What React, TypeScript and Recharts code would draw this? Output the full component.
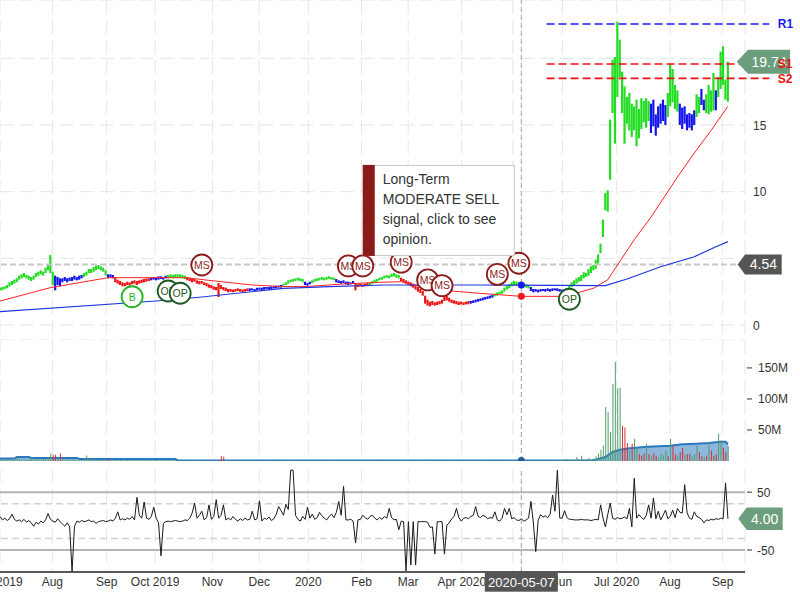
import React from 'react';
import {
  ComposedChart,
  Bar,
  Line,
  Area,
  XAxis,
  YAxis,
  CartesianGrid,
  ReferenceLine,
  ReferenceDot,
  Cell,
} from 'recharts';

const FONT = '"Liberation Sans", Arial, sans-serif';

// ---------- axis categories ----------
const monthTickIdx = [0, 21.8, 44.4, 64.6, 88.4, 107.9, 128.3, 150.5, 169.9, 192.2, 213.5, 234.1, 256.7, 278.9, 300.8];
const monthLabels = ['Jul 2019', 'Aug', 'Sep', 'Oct 2019', 'Nov', 'Dec', '2020', 'Feb', 'Mar', 'Apr 2020', 'May', 'Jun', 'Jul 2020', 'Aug', 'Sep'];
const XMAX = 310.1;

const priceTicks = [0, 5, 10, 15, 20];
const priceLabelTicks = [0, 10, 15];
const volumeTicks = [50, 100, 150];
const oscTicks = [-50, 50];

// ---------- daily price bars (low / high) ----------
const priceLow = [
  2.6, 2.6, 2.7, 2.75, 2.9, 3.0, 3.1, 3.2, 3.4, 3.5,
  3.6, 3.5, 3.4, 3.3, 3.4, 3.6, 3.7, 3.8, 3.7, 3.9,
  4.1, 3.9, 3.0, 2.6, 3.0, 2.9, 3.2, 3.3, 3.2, 3.3,
  3.3, 3.4, 3.35, 3.4, 3.5, 3.6, 3.7, 3.9, 3.9, 4.0,
  4.1, 4.2, 4.1, 4.0, 3.7, 3.5, 3.55, 3.5, 3.2, 3.1,
  3.0, 2.9, 2.9, 3.0, 2.95, 3.05, 3.1, 3.0, 3.1, 3.15,
  3.2, 3.25, 3.3, 3.35, 3.4, 3.35, 3.4, 3.45, 3.4, 3.5,
  3.5, 3.55, 3.5, 3.55, 3.6, 3.55, 3.5, 3.45, 3.35, 3.3,
  3.2, 3.25, 3.1, 3.05, 3.1, 3.0, 2.9, 2.8, 2.75, 2.65,
  2.6, 2.1, 2.7, 2.6, 2.55, 2.45, 2.5, 2.45, 2.5, 2.55,
  2.5, 2.45, 2.5, 2.55, 2.55, 2.6, 2.55, 2.6, 2.65, 2.6,
  2.65, 2.7, 2.65, 2.7, 2.75, 2.75, 2.8, 2.8, 2.9, 3.0,
  3.1, 3.2, 3.25, 3.3, 3.35, 3.3, 3.2, 3.0, 2.95, 3.05,
  3.15, 3.25, 3.3, 3.35, 3.4, 3.35, 3.4, 3.45, 3.4, 3.35,
  3.2, 3.15, 3.1, 3.15, 3.05, 3.0, 3.05, 3.1, 2.6, 2.85,
  2.9, 2.85, 2.9, 2.95, 3.0, 3.1, 3.2, 3.25, 3.35, 3.4,
  3.5, 3.55, 3.5, 3.6, 3.65, 3.55, 3.5, 3.3, 3.2, 3.1,
  3.0, 2.9, 2.8, 2.65, 2.5, 2.4, 2.2, 1.6, 1.45, 1.4,
  1.5, 1.45, 1.5, 1.55, 1.6, 1.8, 1.85, 1.75, 1.65, 1.6,
  1.55, 1.5, 1.55, 1.5, 1.55, 1.55, 1.6, 1.65, 1.7, 1.75,
  1.8, 1.85, 1.9, 1.95, 2.0, 2.05, 2.15, 2.2, 2.3, 2.35,
  2.5, 2.65, 2.75, 2.9, 3.0, 2.95, 2.9, 2.9, 2.85, 2.8,
  2.75, 2.55, 2.45, 2.5, 2.45, 2.5, 2.55, 2.5, 2.55, 2.5,
  2.55, 2.6, 2.55, 2.5, 2.45, 2.4, 2.5, 2.7, 2.85, 3.0,
  3.1, 3.25, 3.3, 3.5, 3.6, 3.7, 3.9, 4.1, 4.2, 4.6,
  5.4, 6.6, 8.6, 8.5, 10.9, 15.9, 13.6, 17.1, 18.6, 15.9,
  13.6, 15.1, 14.6, 14.1, 14.6, 13.4, 14.0, 14.7, 15.2, 14.8,
  15.3, 14.4, 14.9, 14.2, 14.8, 15.1, 15.3, 15.0, 15.6, 16.4,
  16.7, 16.2, 16.0, 15.0, 14.7, 15.1, 14.6, 14.8, 14.6, 15.0,
  15.6, 15.9, 16.5, 16.1, 15.9, 15.8, 16.0, 16.1, 16.1, 17.1,
  17.7, 18.0, 16.9, 16.75,
];

const priceHigh = [
  2.8, 2.85, 2.9, 3.0, 3.2, 3.3, 3.4, 3.5, 3.7, 3.8,
  3.9, 3.75, 3.7, 3.6, 3.7, 3.9, 4.0, 4.1, 4.0, 4.3,
  4.5, 5.25, 4.0, 3.7, 3.6, 3.5, 3.5, 3.6, 3.5, 3.55,
  3.6, 3.7, 3.6, 3.7, 3.75, 3.9, 4.0, 4.2, 4.2, 4.35,
  4.45, 4.5, 4.4, 4.3, 4.1, 3.8, 3.8, 3.75, 3.6, 3.4,
  3.3, 3.2, 3.15, 3.25, 3.2, 3.3, 3.35, 3.3, 3.35, 3.4,
  3.45, 3.5, 3.5, 3.55, 3.6, 3.55, 3.65, 3.65, 3.6, 3.7,
  3.75, 3.8, 3.75, 3.8, 3.8, 3.8, 3.75, 3.7, 3.6, 3.55,
  3.45, 3.45, 3.35, 3.3, 3.3, 3.2, 3.15, 3.05, 3.0, 2.9,
  2.85, 3.15, 3.0, 2.85, 2.8, 2.7, 2.7, 2.65, 2.7, 2.75,
  2.7, 2.65, 2.7, 2.75, 2.75, 2.75, 2.7, 2.8, 2.8, 2.8,
  2.85, 2.85, 2.85, 2.9, 2.9, 2.95, 2.95, 3.0, 3.1, 3.2,
  3.35, 3.4, 3.45, 3.5, 3.55, 3.5, 3.45, 3.25, 3.15, 3.25,
  3.35, 3.45, 3.5, 3.55, 3.6, 3.55, 3.6, 3.65, 3.6, 3.55,
  3.45, 3.35, 3.3, 3.35, 3.25, 3.25, 3.2, 3.3, 3.1, 3.05,
  3.1, 3.05, 3.1, 3.15, 3.2, 3.3, 3.4, 3.45, 3.55, 3.6,
  3.7, 3.75, 3.7, 3.85, 3.9, 3.8, 3.75, 3.55, 3.45, 3.35,
  3.25, 3.2, 3.1, 2.95, 2.85, 2.7, 2.55, 2.2, 1.9, 1.75,
  1.8, 1.7, 1.75, 1.8, 1.9, 2.15, 2.2, 2.05, 1.9, 1.85,
  1.8, 1.75, 1.75, 1.7, 1.75, 1.8, 1.8, 1.85, 1.9, 1.95,
  2.0, 2.05, 2.1, 2.15, 2.2, 2.25, 2.35, 2.45, 2.5, 2.6,
  2.8, 2.95, 3.05, 3.2, 3.3, 3.25, 3.2, 3.15, 3.1, 3.05,
  3.0, 2.85, 2.7, 2.7, 2.65, 2.7, 2.7, 2.7, 2.75, 2.7,
  2.75, 2.75, 2.75, 2.7, 2.65, 2.65, 2.7, 3.0, 3.2, 3.35,
  3.5, 3.6, 3.75, 3.95, 3.9, 4.2, 4.4, 4.5, 4.9, 5.3,
  6.1, 7.9, 9.9, 10.1, 15.4, 19.9, 20.1, 22.75, 21.4, 19.0,
  17.9, 17.1, 17.4, 16.6, 16.4, 16.9, 16.2, 17.0, 16.8, 17.0,
  16.8, 16.6, 16.9, 15.8, 16.4, 16.6, 16.9, 16.5, 17.4, 19.6,
  19.2, 18.0, 17.6, 16.6, 16.3, 16.4, 15.8, 15.9, 15.8, 16.1,
  17.3, 17.1, 17.7, 16.9, 17.3, 18.0, 17.6, 18.9, 17.6, 18.6,
  20.5, 20.9, 18.4, 19.75,
];

// trend state of each bar (start index of each run)
const trendStarts = [0, 23, 35, 45, 48, 63, 70, 78, 104, 118, 127, 130, 140, 148, 154, 167, 196, 206, 221, 237, 271, 278, 283, 290, 292, 294, 298, 299];
const trendStates = ['up', 'flat', 'up', 'flat', 'down', 'flat', 'up', 'down', 'flat', 'up', 'flat', 'up', 'flat', 'down', 'up', 'down', 'flat', 'up', 'flat', 'up', 'flat', 'up', 'flat', 'up', 'flat', 'up', 'flat', 'up'];

// moving averages read at sparse points [index, value]
const redMA: [number, number][] = [
  [0, 1.8], [21, 2.8], [45, 3.55], [60, 3.55], [77, 3.55], [92, 3.25], [105, 3.0], [118, 2.88], [129, 2.9],
  [142, 3.07], [158, 3.2], [167, 3.25], [180, 2.67], [200, 2.37], [217, 2.15], [233, 2.15], [240, 2.4],
  [247, 2.75], [253, 3.4], [257, 4.5], [264, 6.4], [271, 8.1], [282, 11.1], [289, 12.9], [296, 14.6], [303, 16.4],
];
const blueMA: [number, number][] = [
  [0, 1.0], [65, 1.8], [83, 2.08], [118, 2.75], [137, 2.88], [160, 3.0], [200, 3.0], [252, 2.95],
  [261, 3.45], [275, 4.37], [289, 5.12], [298, 5.87], [303, 6.25],
];

// ---------- volume (millions) ----------
const volumeM = [
  3, 2.5, 3.5, 2, 3, 2.5, 4, 6, 3, 2.5,
  3, 2, 3.5, 4.5, 3, 4, 3, 2.5, 3.5, 4,
  5, 12, 10, 10, 4, 12, 3, 2.5, 3, 2,
  2.5, 3, 2, 3, 2.5, 3, 9, 3, 2.5, 2,
  2, 1.5, 2, 2, 1.5, 3.8, 1.5, 1, 1.5, 1,
  1.5, 1, 1, 1.5, 1, 1, 1.5, 1, 1, 1.5,
  1, 1, 1.5, 1, 1, 1.5, 1, 1, 1, 1.5,
  1, 1, 1, 1.5, 1, 1, 0.8, 1, 0.8, 1,
  0.8, 1, 0.8, 0.8, 1, 0.8, 1, 0.8, 1, 0.8,
  1, 1.5, 7.5, 7, 1.5, 1, 0.8, 1, 0.8, 0.8,
  0.8, 0.6, 0.8, 0.6, 0.8, 0.6, 0.8, 0.6, 0.6, 0.8,
  0.6, 0.6, 0.8, 0.6, 0.6, 0.8, 0.6, 0.8, 1, 0.8,
  1, 0.8, 1.2, 0.8, 1, 0.8, 0.6, 0.8, 0.6, 0.8,
  0.6, 0.6, 0.8, 0.6, 0.8, 0.6, 0.6, 0.8, 0.6, 0.8,
  0.8, 0.6, 0.8, 0.6, 0.8, 0.6, 0.8, 0.6, 2.7, 0.8,
  0.6, 0.8, 0.6, 0.8, 0.6, 0.8, 0.6, 0.8, 0.6, 0.6,
  0.8, 0.6, 0.8, 0.6, 0.8, 0.6, 0.8, 0.6, 0.8, 1,
  0.8, 1, 0.8, 1, 0.8, 1, 1.2, 1.5, 1, 0.8,
  1, 0.8, 1, 0.8, 1, 0.8, 1, 0.8, 0.6, 0.8,
  0.6, 0.8, 0.6, 0.8, 0.6, 0.8, 0.6, 0.8, 0.6, 0.8,
  0.6, 0.8, 0.6, 0.8, 0.6, 0.8, 1, 0.8, 1, 0.8,
  1, 1.2, 1, 0.8, 1, 1.5, 1, 3, 1, 0.8,
  1, 0.8, 1, 0.8, 1, 0.8, 1, 0.8, 1, 1.5,
  1, 1.2, 1, 1.5, 1, 2.5, 3, 2, 2, 1.5,
  6.5, 2, 8.6, 3, 3, 5, 2, 4, 7.5, 12,
  18, 25, 87, 78.5, 47, 124, 160, 117, 118, 57,
  54, 29, 17, 28, 35.5, 20, 11, 8.6, 12, 28,
  11, 8.6, 12, 8.6, 6.5, 12, 9.7, 17, 8.6, 36,
  25, 11, 8.6, 14.5, 21.5, 11, 11, 12, 7.5, 11,
  25, 14, 7.5, 6.5, 8.6, 28, 17, 8.6, 11, 44,
  33, 21.5, 14, 23.6,
];
const volumeDownDays = [22, 23, 25, 45, 92, 93, 217, 259, 260, 261, 263, 266, 267, 268, 270, 272, 273, 278, 280, 281, 283, 284, 286, 287, 291, 292, 294, 296, 297, 298, 301, 302];
const volumeMA: [number, number][] = [
  [0, 4], [6, 4], [7, 6.5], [12, 6.5], [13, 5], [32, 5], [33, 3.2], [73, 3.2], [74, 1], [246, 1],
  [248, 2], [252, 6.5], [255, 14.5], [258, 18], [260, 19.4], [262, 20.4], [265, 21.5], [268, 22.6],
  [274, 23.7], [279, 24.7], [284, 27], [290, 28], [295, 29], [300, 31], [302, 31], [303, 27],
];

// ---------- oscillator ----------
const oscValues = [
  8, 2, 5, 1, 4, 12, 3, 0, 2, -1,
  3, -2, 1, -3, -9, -2, -5, 0, -3, 2,
  13, 3, 0, -2, 4, -1, -5, -9, -3, -10,
  -87, -9, 0, -2, 1, -1, 0, 2, -1, 0,
  -4, -1, 0, 1, -1, 0, 2, 0, 5, 16,
  2, 4, 2, 5, 3, 8, 2, 41, 10, 5,
  33, 5, 3, 8, 24, 5, -3, -60, -4, -1,
  0, -1, 0, 1, 0, -1, 0, 2, 1, 5,
  14, 31, 5, 10, 17, 2, 6, 28, 3, 8,
  37, 5, 10, 28, 2, 5, 2, 8, 3, 0,
  4, 1, 5, 2, 3, 17, 2, 4, 35, 0,
  5, 3, 7, 1, 4, 12, 25, 18, 10, 29,
  20, 88, 88, 10, 3, 0, 8, 3, 24, 5,
  12, 3, 6, 15, 9, 5, 2, 8, 12, 6,
  15, 34, 10, 60, 2, 2, 3, 0, -38, 2,
  3, 10, 6, 3, 8, 10, 5, 2, 6, 3,
  8, 5, 22, 6, 2, 3, -15, 0, -1, -86,
  -1, -76, -1, -76, -1, -1, -1, -1, -2, -11,
  -10, -57, -1, -1, -1, -57, -7, -3, 4, 8,
  22, 6, 0, 5, 6, 4, 8, 10, 25, 8,
  6, 10, 8, 4, 6, 5, 16, 2, 0, 5,
  22, 11, 22, 4, 6, 2, 1, 4, 0, 2,
  5, 34, -3, -53, 1, 11, 7, 9, 6, 12,
  45, 17, 88, 5, 5, 18, 6, 3, 3, 2,
  2, 2, 3, 2, 2, 2, 1, 2, 3, 2,
  28, 5, -10, 12, 31, 5, 3, 6, 4, 5,
  7, 4, 22, -10, 74, 5, 11, 6, 3, 10,
  28, 5, 40, 4, 17, 2, 10, 19, 4, 8,
  19, 6, 22, 15, 14, 63, 14, 5, 3, 16,
  8, 6, 3, -3, 2, 1, 3, 2, 4, 3,
  5, 4, 66, 4,
];

// ---------- signals & annotations ----------
const signals = [
  { i: 55, v: 2.12, kind: 'B' },
  { i: 70, v: 2.55, kind: 'OP' },
  { i: 75, v: 2.38, kind: 'OP' },
  { i: 84, v: 4.5, kind: 'MS' },
  { i: 145, v: 4.43, kind: 'MS' },
  { i: 151, v: 4.43, kind: 'MS' },
  { i: 167, v: 4.71, kind: 'MS' },
  { i: 178, v: 3.38, kind: 'MS' },
  { i: 184, v: 2.95, kind: 'MS' },
  { i: 207, v: 3.8, kind: 'MS' },
  { i: 216, v: 4.63, kind: 'MS' },
  { i: 237, v: 1.93, kind: 'OP' },
];
const tooltipSignal = 5;
const tooltipLines = ['Long-Term', 'MODERATE SELL', 'signal, click to see', 'opinion.'];

const levels = [
  { name: 'R1', v: 22.58, from: 227.5, to: 320.2, kind: 'res' },
  { name: 'S1', v: 19.58, from: 227.5, to: 320.2, kind: 'sup' },
  { name: 'S2', v: 18.5, from: 227.5, to: 320.2, kind: 'sup' },
];

const hoverIdx = 217;
const hoverDate = '2020-05-07';
const hoverPrice = 4.54;
const hoverRedMA = 2.15;
const hoverBlueMA = 3.0;
const hoverVolMA = 1.0;
const lastClose = 19.74;
const lastOsc = 4.0;

// ---------- build table ----------
const trendColor: Record<string, string> = { up: '#22dd22', flat: '#1414ee', down: '#ee1414' };
const trendAt = (i: number) => {
  let s = trendStates[0];
  for (let k = 0; k < trendStarts.length; k++) if (trendStarts[k] <= i) s = trendStates[k];
  return s;
};
const redMap = new Map(redMA);
const blueMap = new Map(blueMA);
const volMAMap = new Map(volumeMA);
const downSet = new Set(volumeDownDays);

const rows = priceLow.map((lo, i) => ({
  i,
  hl: [lo, priceHigh[i]],
  trend: trendAt(i),
  vol: volumeM[i],
  osc: oscValues[i],
  maR: redMap.has(i) ? redMap.get(i) : null,
  maB: blueMap.has(i) ? blueMap.get(i) : null,
  vMA: volMAMap.has(i) ? volMAMap.get(i) : null,
}));

// ---------- render helpers ----------
const txt = { fontFamily: FONT };

const PriceTick = (p: any) =>
  priceLabelTicks.includes(p.payload.value) ? (
    <text x={p.x + 8} y={p.y + 4.5} fontSize={12} fill="#333" style={txt}>
      {p.payload.value}
    </text>
  ) : (
    <g />
  );

const VolTick = (p: any) => (
  <g>
    <line x1={p.x + 2} x2={p.x + 7} y1={p.y} y2={p.y} stroke="#333" strokeWidth={1} />
    <text x={p.x + 13} y={p.y + 4.5} fontSize={12} fill="#333" style={txt}>
      {`${p.payload.value}M`}
    </text>
  </g>
);

const OscTick = (p: any) => (
  <g>
    <line x1={p.x + 2} x2={p.x + 7} y1={p.y} y2={p.y} stroke="#333" strokeWidth={1} />
    <text x={p.x + 12} y={p.y + 4.5} fontSize={12} fill="#333" style={txt}>
      {p.payload.value}
    </text>
  </g>
);

const XTick = (p: any) => {
  const k = monthTickIdx.indexOf(p.payload.value);
  return (
    <text x={p.x} y={p.y + 14} textAnchor="middle" fontSize={12} fill="#333" style={txt}>
      {k >= 0 ? monthLabels[k] : ''}
    </text>
  );
};

const ArrowTag = ({ tipX, boxL, boxR, cy, h, fill, text }: any) => {
  const d = `M${tipX},${cy} L${boxL},${cy - h / 2} L${boxR},${cy - h / 2} L${boxR},${cy + h / 2} L${boxL},${cy + h / 2} Z`;
  return (
    <g>
      <path d={d} fill={fill} />
      <text x={(boxL + boxR) / 2} y={cy + 5} textAnchor="middle" fontSize={14} fill="#fff" style={txt}>
        {text}
      </text>
    </g>
  );
};

const sigColor: Record<string, string> = { B: '#22b422', OP: '#1c5a22', MS: '#8e1b1b' };
const SignalShape = ({ cx, cy, kind }: any) => (
  <g>
    <circle cx={cx} cy={cy} r={10.5} fill="#fff" stroke={sigColor[kind]} strokeWidth={1.8} />
    <text x={cx} y={cy + 3.8} textAnchor="middle" fontSize={10.5} fill={sigColor[kind]} style={txt}>
      {kind}
    </text>
  </g>
);

const TipShape = ({ cx, cy }: any) => {
  const w = 151;
  const h = 90;
  const top = cy - 11 - h;
  return (
    <g>
      <rect x={cx + 0.5} y={top + 0.5} width={w} height={h} fill="#fff" stroke="#c8c8c8" strokeWidth={1} />
      <rect x={cx} y={top} width={12} height={h + 1} fill="#8b1a1a" />
      {tooltipLines.map((t, k) => (
        <text key={k} x={cx + 20} y={top + 19 + k * 20} fontSize={14} fill="#333" style={txt}>
          {t}
        </text>
      ))}
    </g>
  );
};

const gridProps = { stroke: '#e6e6e6', strokeDasharray: '14 6' };
const margin0 = { top: 0, right: 0, bottom: 0, left: 0 };
const OSC_DOMAIN = [-88, 90];

export default function App() {
  return (
    <div style={{ position: 'absolute', left: 0, top: 0, width: 800, height: 600, background: '#fff', overflow: 'hidden', fontFamily: FONT }}>
      {/* price panel */}
      <div style={{ position: 'absolute', left: 0, top: 0 }}>
        <ComposedChart width={800} height={340} data={rows} margin={margin0}>
          <CartesianGrid {...gridProps} />
          <XAxis dataKey="i" type="number" domain={[0, XMAX]} allowDataOverflow ticks={monthTickIdx} interval={0} hide />
          <YAxis
            orientation="right"
            width={55}
            domain={[-1.125, 24.375]}
            allowDataOverflow
            ticks={priceTicks}
            interval={0}
            axisLine={false}
            tickLine={false}
            tickSize={0}
            tickMargin={0}
            tick={PriceTick}
          />
          <ReferenceLine y={hoverPrice} stroke="#c8c8c8" strokeWidth={2} strokeDasharray="6 3" />
          <ReferenceLine x={hoverIdx} stroke="#a0a0a0" strokeDasharray="5 3" />
          <Bar dataKey="hl" barSize={2.2} isAnimationActive={false}>
            {rows.map((r) => (
              <Cell key={r.i} fill={trendColor[r.trend]} />
            ))}
          </Bar>
          <Line dataKey="maR" type="linear" stroke="#ff2222" strokeWidth={1} dot={false} activeDot={false} connectNulls isAnimationActive={false} />
          <Line dataKey="maB" type="linear" stroke="#1f35e0" strokeWidth={1.2} dot={false} activeDot={false} connectNulls isAnimationActive={false} />
          {levels.map((l) => (
            <ReferenceLine
              key={l.name}
              segment={[{ x: l.from, y: l.v }, { x: l.to, y: l.v }]}
              ifOverflow="visible"
              stroke={l.kind === 'res' ? '#1a1aee' : '#ee1111'}
              strokeWidth={1.6}
              strokeDasharray="8 4"
            />
          ))}
          <ReferenceDot x={hoverIdx} y={hoverBlueMA} r={3.5} fill="#1a1aee" stroke="none" />
          <ReferenceDot x={hoverIdx} y={hoverRedMA} r={3.5} fill="#ee1a1a" stroke="none" />
          <ReferenceDot
            x={XMAX}
            y={hoverPrice}
            ifOverflow="visible"
            shape={(p: any) => <ArrowTag tipX={p.cx - 7.3} boxL={p.cx} boxR={p.cx + 36.7} cy={p.cy} h={20} fill="#555555" text={hoverPrice.toFixed(2)} />}
          />
          <ReferenceDot
            x={XMAX}
            y={lastClose}
            ifOverflow="visible"
            shape={(p: any) => <ArrowTag tipX={p.cx - 8.3} boxL={p.cx + 3} boxR={p.cx + 45} cy={p.cy} h={24} fill="#6c9e7e" text={lastClose.toFixed(2)} />}
          />
          {levels.map((l) => (
            <ReferenceDot
              key={`lab-${l.name}`}
              x={l.to}
              y={l.v}
              ifOverflow="visible"
              shape={(p: any) => (
                <text x={p.cx + 8.5} y={p.cy + 4.5} fontSize={12} fontWeight="bold" fill={l.kind === 'res' ? '#1a1aee' : '#ee1111'} style={txt}>
                  {l.name}
                </text>
              )}
            />
          ))}
          {signals.map((s, k) => (
            <ReferenceDot key={`sig-${k}`} x={s.i} y={s.v} ifOverflow="visible" shape={(p: any) => <SignalShape cx={p.cx} cy={p.cy} kind={s.kind} />} />
          ))}
          <ReferenceDot
            x={signals[tooltipSignal].i}
            y={signals[tooltipSignal].v}
            ifOverflow="visible"
            shape={(p: any) => <TipShape cx={p.cx} cy={p.cy} />}
          />
        </ComposedChart>
      </div>

      {/* volume panel */}
      <div style={{ position: 'absolute', left: 0, top: 340 }}>
        <ComposedChart width={800} height={121} data={rows} margin={margin0}>
          <CartesianGrid {...gridProps} horizontal={false} />
          <XAxis dataKey="i" type="number" domain={[0, XMAX]} allowDataOverflow ticks={monthTickIdx} interval={0} hide />
          <YAxis
            orientation="right"
            width={55}
            domain={[0, 195]}
            allowDataOverflow
            ticks={volumeTicks}
            interval={0}
            axisLine={false}
            tickLine={false}
            tickSize={0}
            tickMargin={0}
            tick={VolTick}
          />
          <ReferenceLine x={hoverIdx} stroke="#a0a0a0" strokeDasharray="5 3" />
          <Bar dataKey="vol" barSize={1} isAnimationActive={false}>
            {rows.map((r) => (
              <Cell key={r.i} fill={downSet.has(r.i) ? '#d83030' : '#4f9c6c'} />
            ))}
          </Bar>
          <Area
            dataKey="vMA"
            type="linear"
            connectNulls
            fill="rgba(47,123,189,0.55)"
            fillOpacity={1}
            stroke="#2a78bd"
            strokeWidth={2}
            dot={false}
            activeDot={false}
            isAnimationActive={false}
          />
          <ReferenceDot x={hoverIdx} y={hoverVolMA} r={3.5} fill="#1f5a96" stroke="none" />
        </ComposedChart>
      </div>

      {/* oscillator panel */}
      <div style={{ position: 'absolute', left: 0, top: 469 }}>
        <ComposedChart width={800} height={131} data={rows} margin={margin0}>
          <CartesianGrid {...gridProps} horizontal={false} />
          <XAxis
            dataKey="i"
            type="number"
            domain={[0, XMAX]}
            allowDataOverflow
            ticks={monthTickIdx}
            interval={0}
            height={28}
            axisLine={{ stroke: '#222', strokeWidth: 1.5 }}
            tickLine={false}
            tickSize={0}
            tickMargin={0}
            tick={XTick}
          />
          <YAxis
            orientation="right"
            width={55}
            domain={OSC_DOMAIN}
            allowDataOverflow
            ticks={oscTicks}
            interval={0}
            axisLine={false}
            tickLine={false}
            tickSize={0}
            tickMargin={0}
            tick={OscTick}
          />
          <ReferenceLine y={50} stroke="#b4b4b4" strokeWidth={2} />
          <ReferenceLine y={-50} stroke="#b4b4b4" strokeWidth={2} />
          <ReferenceLine y={30} stroke="#d2d2d2" strokeWidth={1.5} strokeDasharray="7 4" />
          <ReferenceLine y={-30} stroke="#d2d2d2" strokeWidth={1.5} strokeDasharray="7 4" />
          <ReferenceLine x={hoverIdx} stroke="#a0a0a0" strokeDasharray="5 3" />
          <Line dataKey="osc" type="linear" stroke="#1a1a1a" strokeWidth={1} dot={false} activeDot={false} isAnimationActive={false} />
          <ReferenceDot
            x={XMAX}
            y={lastOsc}
            ifOverflow="visible"
            shape={(p: any) => <ArrowTag tipX={p.cx - 6.7} boxL={p.cx + 1.7} boxR={p.cx + 37.7} cy={p.cy} h={22.6} fill="#6c9e7e" text={lastOsc.toFixed(2)} />}
          />
        </ComposedChart>
      </div>

      {/* crosshair date flag, drawn above the oscillator axis labels */}
      <div style={{ position: 'absolute', left: 0, top: 469, pointerEvents: 'none' }}>
        <ComposedChart width={800} height={131} data={rows} margin={margin0} style={{ background: 'transparent' }}>
          <XAxis dataKey="i" type="number" domain={[0, XMAX]} allowDataOverflow height={28} axisLine={false} tickLine={false} tick={false} />
          <YAxis orientation="right" width={55} domain={OSC_DOMAIN} allowDataOverflow axisLine={false} tickLine={false} tick={false} />
          <ReferenceDot
            x={hoverIdx}
            y={OSC_DOMAIN[0]}
            ifOverflow="visible"
            shape={(p: any) => (
              <g>
                <rect x={p.cx - 36.5} y={p.cy + 0.3} width={73} height={19.4} fill="#555555" />
                <text x={p.cx} y={p.cy + 15} textAnchor="middle" fontSize={13} fill="#fff" style={txt}>
                  {hoverDate}
                </text>
              </g>
            )}
          />
        </ComposedChart>
      </div>
    </div>
  );
}
